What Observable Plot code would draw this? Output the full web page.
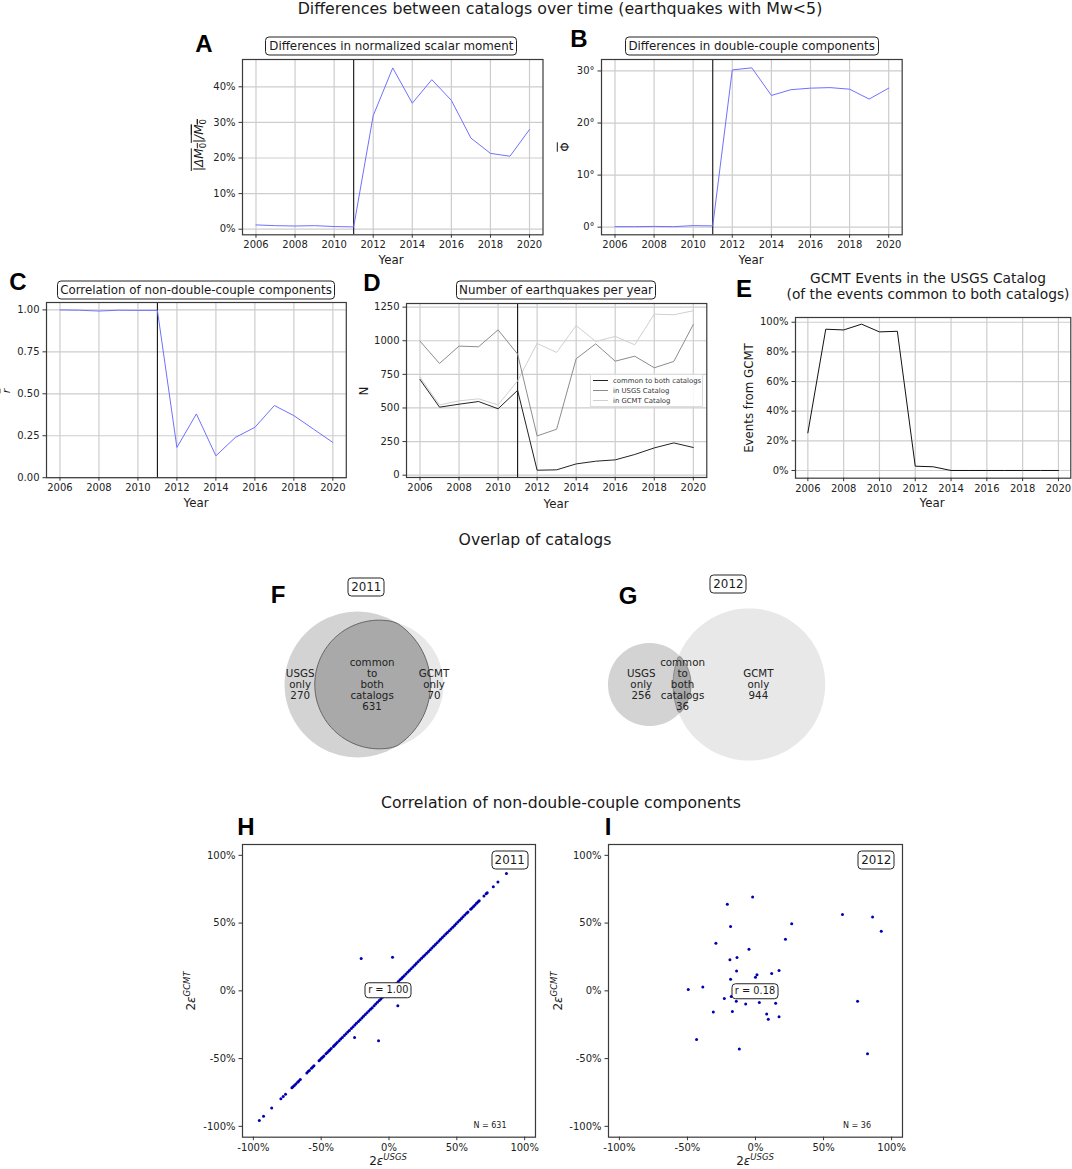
<!DOCTYPE html>
<html>
<head>
<meta charset="utf-8">
<script src="https://cdn.jsdelivr.net/npm/d3@7"></script>
<script src="https://cdn.jsdelivr.net/npm/@observablehq/plot@0.6"></script>
<style>
  body { margin: 0; background: white; }
  #chart { position: relative; width: 1072px; height: 1169px; font-family: "DejaVu Sans", sans-serif; color: #1a1a1a; overflow: hidden; }
  #chart svg { position: absolute; overflow: visible; background: transparent; }
  .lbl { position: absolute; transform: translate(-50%, -50%); white-space: nowrap; line-height: 1.2; }
  .lbl sub, .lbl sup { line-height: 0; }
  .rot { transform: translate(-50%, -50%) rotate(-90deg); }
  .box { border: 1px solid #222; border-radius: 4px; background: white; padding: 1px 3px; box-sizing: border-box; text-align: center; }
  .letter { font-family: "Liberation Sans", sans-serif; font-weight: bold; font-size: 24px; color: black; }
  .legend { position: absolute; background: rgba(255,255,255,.85); border: 1px solid #ddd; font-size: 6.9px; box-sizing: border-box; color: #333; }
  .legend div { position: absolute; left: 2px; height: 10px; line-height: 10px; white-space: nowrap; }
  .legend span { display: inline-block; width: 15px; margin-right: 5px; vertical-align: middle; border-top: 1px solid; }
</style>
</head>
<body>
<div id="chart"></div>
<script>
// values
const years = [2006,2007,2008,2009,2010,2011,2012,2013,2014,2015,2016,2017,2018,2019,2020];
const yearTicks = [2006,2008,2010,2012,2014,2016,2018,2020];
const eventYear = [2011];

const momentDiff = [1.2,1.0,0.9,1.0,0.75,0.65,31.9,45.3,35.4,42,36.2,25.6,21.3,20.5,28];
const momentTicks = [0,10,20,30,40];
const dcDiff = [0.1,0.1,0.15,0.1,0.3,0.25,30.2,30.6,25.3,26.4,26.7,26.8,26.5,24.6,26.7];
const dcTicks = [0,10,20,30];
const nonDcCorr = [1.0,0.998,0.993,0.998,0.997,0.997,0.18,0.38,0.13,0.24,0.30,0.43,0.37,0.29,0.21];
const corrTicks = [0,0.25,0.5,0.75,1];
const nCommon = [712,506,528,548,494,631,37,40,84,104,114,154,203,240,206];
const nUsgs = [997,831,960,955,1081,901,292,342,866,977,848,885,799,846,1121];
const nGcmt = [729,523,553,568,523,701,980,913,1113,995,1032,970,1198,1193,1223];
const nTicks = [0,250,500,750,1000,1250];
const gcmtShare = [25.4,95.3,94.8,98.7,93.5,93.9,2.9,2.5,0,0,0,0,0,0,0];
const shareTicks = [0,20,40,60,80,100];

const venn2011 = [270,631,70]; // usgs only, common, gcmt only
const venn2012 = [256,36,944];
const vennGap2011 = 8.9;
const vennGap2012 = 41;

const pctTicks = [-100,-50,0,50,100];
// 2011: almost everything sits on the diagonal
const diag2011 = [-95.6,-92.5,-86.5,-79.7,-78,-76.3,-71.6,-70.8,-69.8,-68.7,-67.4,-66.5,-65.4,-60.6,-59.6,-58.7,-57.2,-56.2,-55.3,
  -51.6,-50.8,-49.8,-49,-48,-46.5,-45.5,-44.4,-43.6,-42.6,-41,-40.2,-39.2,-38.2,-36.8,-35.6,-34.4,-33,-31.7,-30.4,-29.2,-27.8,-26.5,
  -25.2,-24,-22.6,-21.3,-20,-18.8,-17.5,-16.2,-14.9,-13.6,-12.4,-11,-9.8,-8.5,-7.2,-6,-4.8,-3.4,-2.1,-0.8,0.6,1.9,3.1,4.4,5.6,6.9,8.1,9.2,
  10,11.2,12.5,13.8,15,16.3,17.6,18.9,20.1,21.4,
  22.7,24,25.3,26.5,27.8,29.1,30.4,31.6,32.9,34.2,35.5,36.8,38,39.3,40.6,41.9,43.1,44.4,45.7,47,48.3,49.5,50.8,52.1,53.4,54.6,55.9,
  57.2,58.2,60.2,61.2,62.3,63.4,64.6,65.7,66.5,70,71.6,72.4,76.9,80.3,86.6];
const off2011X = [-20.5,2.6,6.5,-25.4,-7.7];
const off2011Y = [23.8,24.8,-11,-34.4,-36.9];
const scatter2012X = [-2.1,-20.7,63.9,86,92.4,26.6,-18.3,22,-29.1,-4.8,-13.6,-18.8,-13.9,17.3,11.9,1.1,0,-18.3,-38.7,-49.4,-22.9,-17.8,-14.1,-7.2,2.8,14.8,75,-31,-17,8.2,9.4,17.3,-43.3,-11.9,82.3,-5];
const scatter2012Y = [69.3,63.9,56.3,54.5,44,49.6,47.4,38.1,35.1,30.7,24.6,22.9,14.7,15,12.8,11.8,10,8.6,2.9,1,-5.7,-4.2,-7.6,-9.8,-8.6,-9.1,-7.6,-15.7,-15.2,-17,-20.9,-19.2,-35.9,-43,-46.4,0];

const chart = d3.select("#chart");
const BLUE = "#6f6fff";

function label(html, x, y, size, cls) {
  chart.append("div").attr("class", "lbl " + (cls || ""))
    .style("left", x + "px").style("top", y + "px").style("font-size", size + "px").html(html);
}
function badge(text, x, y, w, h, size) {
  chart.append("div").attr("class", "lbl box")
    .style("left", x + "px").style("top", y + "px").style("width", w + "px").style("height", h + "px")
    .style("line-height", (h - 2) + "px").style("padding", "0").style("font-size", size + "px").text(text);
}
function letter(t, x, y) {
  chart.append("div").attr("class", "lbl letter").style("left", x + "px").style("top", y + "px").text(t);
}

// frame is given in page pixels, the plot gets margins around it
function panel(f, o) {
  const ml = 50, mr = 6, mt = 4, mb = 24;
  const svg = Plot.plot({
    width: f.right - f.left + ml + mr,
    height: f.bottom - f.top + mt + mb,
    marginLeft: ml, marginRight: mr, marginTop: mt, marginBottom: mb,
    x: {domain: o.xDomain},
    y: {domain: o.yDomain},
    style: {fontFamily: "DejaVu Sans", fontSize: "10px", color: "#222", background: "transparent"},
    marks: [
      o.grid === false ? null : Plot.gridX(o.xTicks, {stroke: "#cdcdcd", strokeOpacity: 1, strokeWidth: 1.2}),
      o.grid === false ? null : Plot.gridY(o.yTicks, {stroke: "#cdcdcd", strokeOpacity: 1, strokeWidth: 1.2}),
      ...o.marks,
      Plot.frame({stroke: "#3a3a3a", strokeWidth: 1.2}),
      Plot.axisX(o.xTicks, {tickSize: 3.5, tickPadding: 3, tickFormat: o.xFormat, label: null, stroke: "#333", fontSize: 10}),
      Plot.axisY(o.yTicks, {tickSize: 3.5, tickPadding: 3.5, tickFormat: o.yFormat, label: null, stroke: "#333", fontSize: 10})
    ]
  });
  d3.select(svg).style("left", (f.left - ml) + "px").style("top", (f.top - mt) + "px");
  chart.node().append(svg);
}

function timePanel(f, yDomain, yTicks, yFormat, series, vline) {
  panel(f, {
    xDomain: [2005.31, 2020.69], yDomain, xTicks: yearTicks, yTicks, yFormat,
    xFormat: d => String(d),
    marks: [
      vline ? Plot.ruleX(eventYear, {stroke: "#111", strokeWidth: 1.1}) : null,
      ...series.map(s => Plot.line(years, {x: d => d, y: s.values, stroke: s.color, strokeWidth: s.width || 1}))
    ]
  });
}

const pct = d => d + "%";

timePanel({left: 241.5, right: 542, top: 59, bottom: 234.3}, [-1.57, 47.67], momentTicks, pct, [{values: momentDiff, color: BLUE}], true);
timePanel({left: 601.3, right: 902, top: 59, bottom: 234.3}, [-1.46, 32.2], dcTicks, d => d + "°", [{values: dcDiff, color: BLUE}], true);
timePanel({left: 45.7, right: 345.5, top: 302.3, bottom: 477.5}, [0, 1.044], corrTicks, d3.format(".2f"), [{values: nonDcCorr, color: BLUE}], true);
timePanel({left: 405.7, right: 706, top: 303, bottom: 477}, [-17, 1277], nTicks, d => String(d), [
  {values: nGcmt, color: "#cfcfcf"},
  {values: nUsgs, color: "#8c8c8c"},
  {values: nCommon, color: "#222"}
], true);
timePanel({left: 794.7, right: 1070, top: 317.3, bottom: 478}, [-5.2, 103.2], shareTicks, pct, [{values: gcmtShare, color: "#111"}], false);

// venn diagrams: circles in data units, radius from the catalog size
function circlePoints(c) {
  return d3.range(0, 360, 3).map(a => {
    const t = a * Math.PI / 180;
    return {x: c.x + c.r * Math.cos(t), y: c.r * Math.sin(t)};
  });
}
function lensPoints(a, b) {
  const inside = (p, c) => Math.hypot(p.x - c.x, p.y) <= c.r;
  const pts = circlePoints(a).filter(p => inside(p, b)).concat(circlePoints(b).filter(p => inside(p, a)));
  const mx = d3.mean(pts, p => p.x);
  return pts.sort((p, q) => Math.atan2(p.y, p.x - mx) - Math.atan2(q.y, q.x - mx));
}
function venn(sizes, gap, centerPx, textX, edge) {
  const kx = 2.43, ky = 2.43, w = 260, h = 200;
  const left = centerPx - 100, top = 683.8 - h / 2;
  const usgs = {x: 0, r: Math.sqrt(sizes[0] + sizes[1])};
  const gcmt = {x: gap, r: Math.sqrt(sizes[1] + sizes[2])};
  const texts = [
    {x: textX[0], t: `USGS\nonly\n${sizes[0]}`},
    {x: textX[1], t: `common\nto\nboth\ncatalogs\n${sizes[1]}`},
    {x: textX[2], t: `GCMT\nonly\n${sizes[2]}`}
  ];
  const svg = Plot.plot({
    width: w, height: h, margin: 0,
    x: {domain: [-100 / kx, (w - 100) / kx], axis: null},
    y: {domain: [-h / 2 / ky, h / 2 / ky], axis: null},
    style: {fontFamily: "DejaVu Sans", background: "transparent"},
    marks: [
      Plot.line(circlePoints(gcmt), {x: "x", y: "y", fill: "#e8e8e8", stroke: "none", curve: "linear-closed"}),
      Plot.line(circlePoints(usgs), {x: "x", y: "y", fill: "#d3d3d3", stroke: "none", curve: "linear-closed"}),
      Plot.line(lensPoints(usgs, gcmt), {x: "x", y: "y", fill: "#a9a9a9", stroke: edge, strokeWidth: 1, curve: "linear-closed"}),
      Plot.text(texts, {x: "x", y: () => 0, text: "t", fontSize: 10.3, lineHeight: 1.07, fill: "#222"})
    ]
  });
  d3.select(svg).style("left", left + "px").style("top", top + "px");
  chart.node().append(svg);
}
venn(venn2011, vennGap2011, 356.8, [-23.6, 6, 31.5], "#666");
venn(venn2012, vennGap2012, 649, [-3.4, 13.6, 44.8], "#888");

// scatter panels
function scatterPanel(f, xs, ys) {
  panel(f, {
    xDomain: [-108, 108], yDomain: [-108, 108], xTicks: pctTicks, yTicks: pctTicks,
    xFormat: pct, yFormat: pct, grid: false,
    marks: [Plot.dot(xs, {x: d => d, y: ys, r: 1.5, fill: "#0000b0", stroke: "none"})]
  });
}
scatterPanel({left: 241.7, right: 534.7, top: 844, bottom: 1136.7}, diag2011.concat(off2011X), diag2011.concat(off2011Y));
scatterPanel({left: 608.3, right: 902.3, top: 844, bottom: 1136.7}, scatter2012X, scatter2012Y);

// texts
label("Differences between catalogs over time (earthquakes with Mw&lt;5)", 560, 9, 15.8);
label("Overlap of catalogs", 535, 540, 15.7);
label("Correlation of non-double-couple components", 561, 803, 15.7);

badge("Differences in normalized scalar moment", 391.3, 46.3, 252, 19, 11.85);
badge("Differences in double-couple components", 751.7, 46.3, 254, 19, 11.85);
badge("Correlation of non-double-couple components", 196, 290, 278, 19, 11.85);
badge("Number of earthquakes per year", 556, 289.7, 200, 19, 11.85);
label("GCMT Events in the USGS Catalog", 928, 278.3, 13.8);
label("(of the events common to both catalogs)", 928, 294, 13.8);

letter("A", 204, 44);
letter("B", 579, 39);
letter("C", 18, 282);
letter("D", 372, 283);
letter("E", 744, 289);
letter("F", 278, 595);
letter("G", 628, 596);
letter("H", 246, 827);
letter("I", 608, 827);

["Year"].forEach(t => {
  [[391, 260], [751, 260], [196, 503], [556, 504], [932, 503]].forEach(p => label(t, p[0], p[1], 11.8));
});

label('<span style="text-decoration:overline"><i>|&Delta;M</i><sub style="font-size:8.5px">0</sub><i>|/</i><span style="text-decoration:overline"><i>M</i><sub style="font-size:8.5px">0</sub></span></span>', 199, 145, 12, "rot");
label('<span style="text-decoration:overline">&Phi;</span>', 565, 147, 12, "rot");
label('<span style="text-decoration:overline"><i>r</i></span>', 7, 391, 11, "rot");
label("N", 364, 391, 11.8, "rot");
label("Events from GCMT", 749.3, 398, 11.8, "rot");

const epsUsgs = '2<i>&epsilon;</i><sup style="font-size:8.5px"><i>USGS</i></sup>';
const epsGcmt = '2<i>&epsilon;</i><sup style="font-size:8.5px"><i>GCMT</i></sup>';
label(epsUsgs, 388, 1161, 12);
label(epsUsgs, 755, 1161, 12);
label(epsGcmt, 191, 991, 12, "rot");
label(epsGcmt, 558, 991, 12, "rot");

badge("2011", 366.3, 587.3, 37, 19, 11.85);
badge("2012", 728.4, 584, 37, 19, 11.85);
badge("2011", 509.7, 860.3, 37, 19, 11.85);
badge("2012", 876.3, 860.3, 37, 19, 11.85);
badge("r = 1.00", 388.3, 990.3, 47, 15.5, 9.8);
badge("r = 0.18", 755, 991, 47, 15.5, 9.8);
label("N = 631", 490, 1126.3, 8);
label("N = 36", 857, 1126.3, 8);

// legend of panel D
const legend = chart.append("div").attr("class", "legend")
  .style("left", "590px").style("top", "373.7px").style("width", "113px").style("height", "33px");
[["common to both catalogs", "#222", 1], ["in USGS Catalog", "#8c8c8c", 11], ["in GCMT Catalog", "#cfcfcf", 21]].forEach(e => {
  legend.append("div").style("top", e[2] + "px").html(`<span style="border-color:${e[1]}"></span>${e[0]}`);
});
</script>
</body>
</html>
